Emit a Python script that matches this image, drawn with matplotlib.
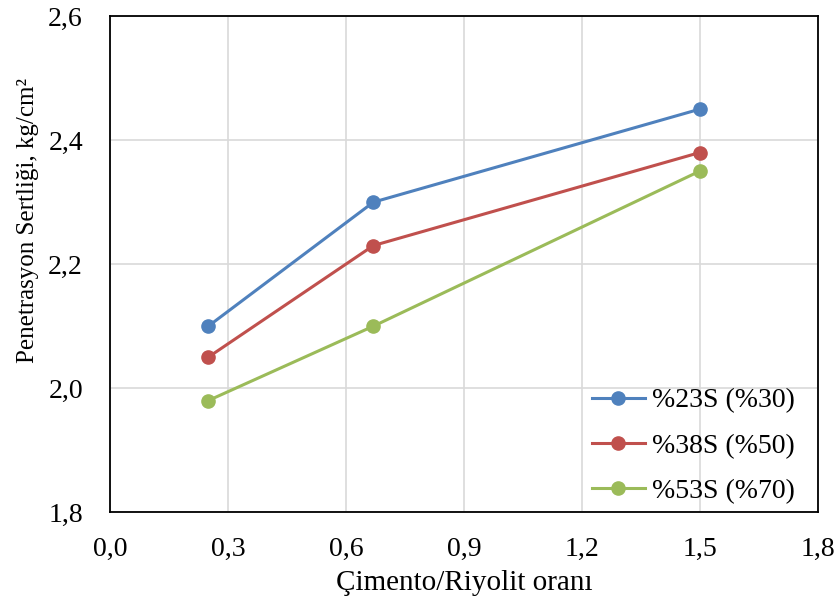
import numpy as np
import matplotlib.pyplot as plt
from matplotlib.ticker import FuncFormatter

# data
oran = [0.25, 0.67, 1.5]
seri_23 = [2.10, 2.30, 2.45]
seri_38 = [2.05, 2.23, 2.38]
seri_53 = [1.98, 2.10, 2.35]
etiketler = ['%23S (%30)', '%38S (%50)', '%53S (%70)']

plt.rcParams['font.family'] = ['Liberation Serif', 'DejaVu Serif']

fig = plt.figure(figsize=(8.36, 5.99), dpi=100)
ax = fig.add_axes([0.1316, 0.145, 0.8464, 0.828])

renkler = ['#4F81BD', '#C0504D', '#9BBB59']
for y, lab, c in zip([seri_23, seri_38, seri_53], etiketler, renkler):
    ax.plot(oran, y, color=c, lw=2.2, marker='o', ms=9.5, label=lab)

ax.set_xlim(0, 1.8)
ax.set_ylim(1.8, 2.6)
ax.set_xticks(np.arange(0, 1.81, 0.3))
ax.set_yticks(np.arange(1.8, 2.61, 0.2))
virgul = FuncFormatter(lambda v, p: ('%.1f' % v).replace('.', ','))
ax.xaxis.set_major_formatter(virgul)
ax.yaxis.set_major_formatter(virgul)
ax.tick_params(length=0, labelsize=20)
ax.tick_params(axis='x', pad=18)
ax.tick_params(axis='y', pad=19.5)
ax.grid(True, color='#D9D9D9', lw=1.2)
ax.set_axisbelow(True)
for s in ax.spines.values():
    s.set_color('black')
    s.set_linewidth(1.3)

ax.set_xlabel('Çimento/Riyolit oranı', fontsize=21, labelpad=6)
ax.set_ylabel('Penetrasyon Sertliği, kg/cm²', fontsize=18)
ax.yaxis.set_label_coords(-0.101, 0.589)

ax.legend(loc='lower right', frameon=False, fontsize=20, labelspacing=0.72,
          handlelength=1.9, handletextpad=0.25, borderpad=0, borderaxespad=0,
          bbox_to_anchor=(0.9675, 0.016))

fig.savefig('out.png', dpi=100)
